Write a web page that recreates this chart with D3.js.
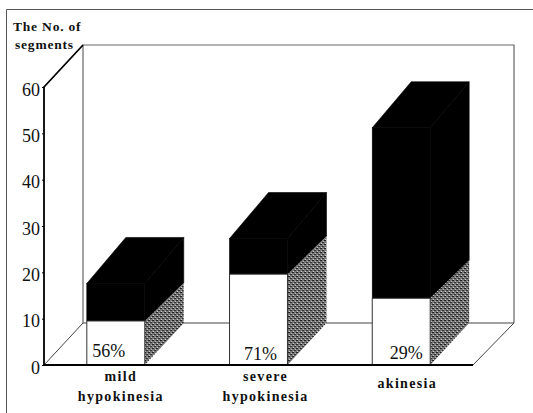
<!DOCTYPE html>
<html>
<head>
<meta charset="utf-8">
<script src="https://cdn.jsdelivr.net/npm/d3@7"></script>
<style>
  html, body { margin: 0; padding: 0; background: #fff; }
  svg { display: block; }
  text { font-family: "Liberation Serif", serif; fill: #111; }
  .cat { font-weight: bold; font-size: 14px; letter-spacing: 1.3px; text-anchor: middle; }
  .title { font-weight: bold; font-size: 13.5px; letter-spacing: 0.8px; }
  .pct { font-size: 18px; text-anchor: middle; }
</style>
</head>
<body>
<div id="chart"></div>
<script>
// Values
const categories = ['mild hypokinesia', 'severe hypokinesia', 'akinesia'];
const whiteValues = [9.5, 19.6, 14.4];
const totalValues = [17.6, 27.3, 51.2];
const percentLabels = ['56%', '71%', '29%'];
const yTicks = [0, 10, 20, 30, 40, 50, 60];

const width = 533;
const height = 413;

// Oblique offset of the 3D box
const depthX = 39;
const wallDepthY = 42;
const barDepthY = 46;

// Percent labels are not centred in the original
const pctOffsetX = [-7, 2, 5];
const pctBaseline = [357, 360, 359];

const svg = d3.select('#chart')
    .append('svg')
    .attr('width', width)
    .attr('height', height);

// Halftone used on the lower side faces
const pattern = svg.append('defs').append('pattern')
    .attr('id', 'halftone')
    .attr('width', 4)
    .attr('height', 4)
    .attr('patternUnits', 'userSpaceOnUse');
pattern.append('rect').attr('width', 4).attr('height', 4).attr('fill', '#777');
pattern.append('rect').attr('width', 2).attr('height', 1).attr('fill', '#222');
pattern.append('rect').attr('x', 2).attr('y', 2).attr('width', 2).attr('height', 1).attr('fill', '#333');
pattern.append('rect').attr('x', 1).attr('y', 3).attr('width', 1).attr('height', 1).attr('fill', '#ccc');
pattern.append('rect').attr('x', 3).attr('y', 1).attr('width', 1).attr('height', 1).attr('fill', '#bbb');

const yScale = d3.scaleLinear().domain([0, 60]).range([365, 87]);
const xScale = d3.scaleBand()
    .domain(categories)
    .range([44, 473])
    .paddingInner(0.594)
    .paddingOuter(0.3);

const y0 = yScale(0);
const yTop = yScale(60);
const xLeft = xScale.range()[0];
const xRight = xScale.range()[1];

// Scanned page frame
svg.append('path')
    .attr('d', `M6.5,${height} V9.5 H${width}`)
    .attr('fill', 'none')
    .attr('stroke', '#555')
    .attr('stroke-width', 1);

// Back wall
svg.append('path')
    .attr('d', `M${xLeft + depthX},${y0 - wallDepthY} V${yTop - wallDepthY} H${xRight + depthX + 2} V${y0 - wallDepthY}`)
    .attr('fill', 'none')
    .attr('stroke', '#666')
    .attr('stroke-width', 1.2);

// Floor
svg.append('path')
    .attr('d', `M${xLeft},${y0} L${xLeft + depthX},${y0 - wallDepthY} H${xRight + depthX + 2} L${xRight},${y0}`)
    .attr('fill', 'none')
    .attr('stroke', '#444')
    .attr('stroke-width', 1);

// Bars
const bars = svg.selectAll('.bar')
    .data(categories.map((c, i) => ({ c, i, white: whiteValues[i], total: totalValues[i], pct: percentLabels[i] })))
    .enter()
    .append('g')
    .attr('class', 'bar');

const poly = pts => pts.map(p => p.join(',')).join(' ');

// top face
bars.append('polygon')
    .attr('fill', '#000')
    .attr('stroke', '#000')
    .attr('stroke-width', 0.6)
    .attr('points', d => {
        const x = xScale(d.c), w = xScale.bandwidth(), y = yScale(d.total);
        return poly([[x, y], [x + depthX, y - barDepthY], [x + w + depthX, y - barDepthY], [x + w, y]]);
    });

// dark part of the side
bars.append('polygon')
    .attr('fill', '#000')
    .attr('stroke', '#000')
    .attr('stroke-width', 0.6)
    .attr('points', d => {
        const x = xScale(d.c) + xScale.bandwidth();
        return poly([[x, yScale(d.total)], [x + depthX, yScale(d.total) - barDepthY],
            [x + depthX, yScale(d.white) - barDepthY + 8], [x, yScale(d.white)]]);
    });

// halftone part of the side
bars.append('polygon')
    .attr('fill', 'url(#halftone)')
    .attr('points', d => {
        const x = xScale(d.c) + xScale.bandwidth();
        return poly([[x, yScale(d.white)], [x + depthX, yScale(d.white) - barDepthY + 8],
            [x + depthX, y0 - wallDepthY], [x, y0]]);
    });

// dark front segment
bars.append('rect')
    .attr('x', d => xScale(d.c))
    .attr('y', d => yScale(d.total))
    .attr('width', xScale.bandwidth())
    .attr('height', d => yScale(d.white) - yScale(d.total))
    .attr('fill', '#000')
    .attr('stroke', '#000')
    .attr('stroke-width', 0.6);

// white front segment
bars.append('rect')
    .attr('x', d => xScale(d.c))
    .attr('y', d => yScale(d.white))
    .attr('width', xScale.bandwidth())
    .attr('height', d => y0 - yScale(d.white))
    .attr('fill', '#fff')
    .attr('stroke', '#333')
    .attr('stroke-width', 1);

bars.append('text')
    .attr('class', 'pct')
    .attr('x', d => xScale(d.c) + xScale.bandwidth() / 2 + pctOffsetX[d.i])
    .attr('y', d => pctBaseline[d.i])
    .text(d => d.pct);

// Heavy left wall edges and baseline
svg.append('path')
    .attr('d', `M${xLeft + depthX},${yTop - wallDepthY} L${xLeft},${yTop} V${y0} H${xRight}`)
    .attr('fill', 'none')
    .attr('stroke', '#000')
    .attr('stroke-width', 1.8);

// Y axis
const yAxis = svg.append('g')
    .attr('transform', `translate(${xLeft},0)`)
    .call(d3.axisLeft(yScale).tickValues(yTicks).tickSize(2).tickPadding(2));
yAxis.select('.domain').remove();
yAxis.selectAll('text')
    .attr('dy', '0.45em')
    .style('font-family', '"Liberation Serif", serif')
    .style('font-size', '18px');

// Category labels
svg.append('text').attr('class', 'cat').attr('x', xScale(categories[0]) + 34).attr('y', 381).text('mild');
svg.append('text').attr('class', 'cat').attr('x', xScale(categories[0]) + 34).attr('y', 401).text('hypokinesia');
svg.append('text').attr('class', 'cat').attr('x', xScale(categories[1]) + 36).attr('y', 381).text('severe');
svg.append('text').attr('class', 'cat').attr('x', xScale(categories[1]) + 36).attr('y', 401).text('hypokinesia');
svg.append('text').attr('class', 'cat').attr('x', xScale(categories[2]) + 35).attr('y', 388).text('akinesia');

// Axis title
svg.append('text').attr('class', 'title').attr('x', 13).attr('y', 31).text('The No. of');
svg.append('text').attr('class', 'title').attr('x', 15).attr('y', 49).text('segments');
</script>
</body>
</html>
